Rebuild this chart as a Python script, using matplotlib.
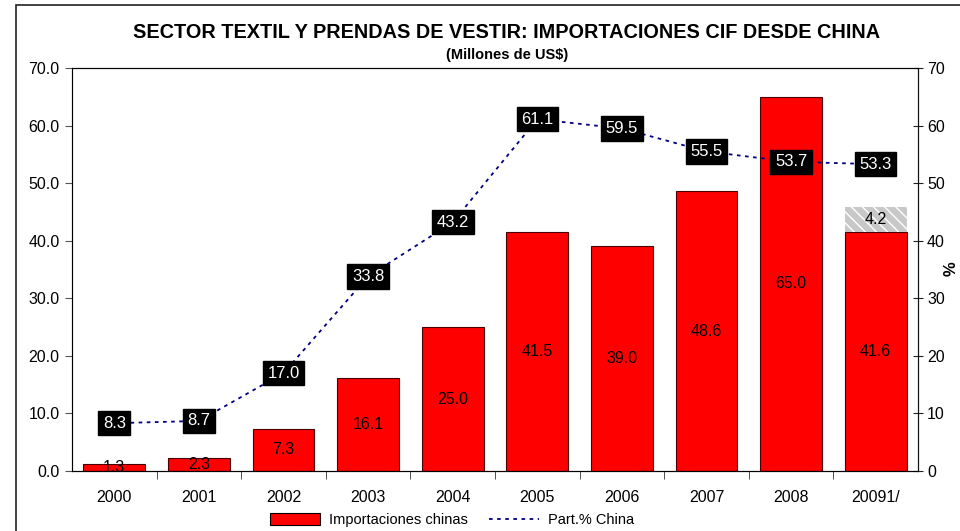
import matplotlib.pyplot as plt
from matplotlib.patches import Rectangle, Patch
from matplotlib.lines import Line2D

plt.rcParams['font.family'] = ['Liberation Sans', 'DejaVu Sans']

years = ["2000", "2001", "2002", "2003", "2004", "2005", "2006", "2007", "2008", "20091/"]
importaciones = [1.3, 2.3, 7.3, 16.1, 25.0, 41.5, 39.0, 48.6, 65.0, 41.6]
proyeccion = [0, 0, 0, 0, 0, 0, 0, 0, 0, 4.2]
part_china = [8.3, 8.7, 17.0, 33.8, 43.2, 61.1, 59.5, 55.5, 53.7, 53.3]

fig = plt.figure(figsize=(9.6, 5.31), dpi=100)
ax = fig.add_axes([72 / 960, 1 - 471 / 531, (918 - 72) / 960, (471 - 68) / 531])

# marco exterior del gráfico
fig.patches.append(Rectangle((16 / 960, -0.2), 1.2, 1.2 - 5 / 531,
                             transform=fig.transFigure, fill=False,
                             edgecolor="#222222", linewidth=1.2))

x = list(range(len(years)))
ax.bar(x, importaciones, width=0.73, color="#ff0000", edgecolor="#4a0000",
       linewidth=0.8, zorder=2)
ax.bar(x[-1], proyeccion[-1], bottom=importaciones[-1], width=0.73,
       color="#c8c8c8", edgecolor="white", hatch="\\\\\\", linewidth=0, zorder=2)

for xi, v in zip(x, importaciones):
    ax.text(xi, v / 2, f"{v:.1f}", ha="center", va="center", fontsize=11.5, zorder=3)
ax.text(x[-1], importaciones[-1] + proyeccion[-1] / 2, f"{proyeccion[-1]:.1f}",
        ha="center", va="center", fontsize=11.5, zorder=3)

ax.set_xlim(-0.5, len(years) - 0.5)
ax.set_ylim(0, 70)
ax.set_yticks(range(0, 71, 10))
ax.set_yticklabels([f"{v:.1f}" for v in range(0, 71, 10)], fontsize=11.5)
ax.set_xticks(x)
ax.set_xticklabels(years, fontsize=11.5)
ax.set_xticks([i + 0.5 for i in x[:-1]], minor=True)
ax.tick_params(axis="x", which="major", length=0, pad=14)
ax.tick_params(axis="x", which="minor", length=6, direction="out", color="#333333")
ax.tick_params(axis="y", length=5, direction="out", color="#555555", pad=4)
ax.spines["left"].set_color("#666666")
ax.spines["top"].set_color("#333333")
ax.spines["bottom"].set_color("#111111")

ax2 = ax.twinx()
ax2.set_ylim(0, 70)
ax2.set_yticks(range(0, 71, 10))
ax2.set_yticklabels([str(v) for v in range(0, 71, 10)], fontsize=11.5)
ax2.tick_params(axis="y", length=7, direction="inout", color="#222222", pad=3)
ax2.spines["right"].set_color("#111111")
ax2.plot(x, part_china, color="#000080", linestyle=(0, (2, 2.5)), linewidth=1.3,
         marker="s", markersize=2.5, zorder=3)
for xi, v in zip(x, part_china):
    ax2.text(xi, v, f"{v:.1f}", ha="center", va="center", color="white", fontsize=12,
             bbox=dict(boxstyle="square,pad=0.28", facecolor="black", edgecolor="black"),
             zorder=4)

# etiqueta del eje derecho
fig.text(951 / 960, 1 - 269 / 531, "%", ha="center", va="center", rotation=90,
         fontsize=12, fontweight="bold")

fig.text(507 / 960, 1 - 32 / 531, "SECTOR TEXTIL Y PRENDAS DE VESTIR: IMPORTACIONES CIF DESDE CHINA",
         ha="center", va="center", fontsize=14.3, fontweight="bold")
fig.text(507 / 960, 1 - 55 / 531, "(Millones de US$)", ha="center", va="center",
         fontsize=10.5, fontweight="bold")

handles = [Patch(facecolor="#ff0000", edgecolor="black", linewidth=0.8),
           Line2D([0], [0], color="#000080", linestyle=(0, (2, 2.5)), linewidth=1.3)]
fig.legend(handles, ["Importaciones chinas", "Part.% China"], loc="center",
           bbox_to_anchor=(0.471, 1 - 520 / 531), ncol=2, frameon=False, fontsize=10.5,
           handlelength=3.4, handleheight=0.9, handletextpad=0.6, columnspacing=1.5)

fig.savefig("out.png", dpi=100)
